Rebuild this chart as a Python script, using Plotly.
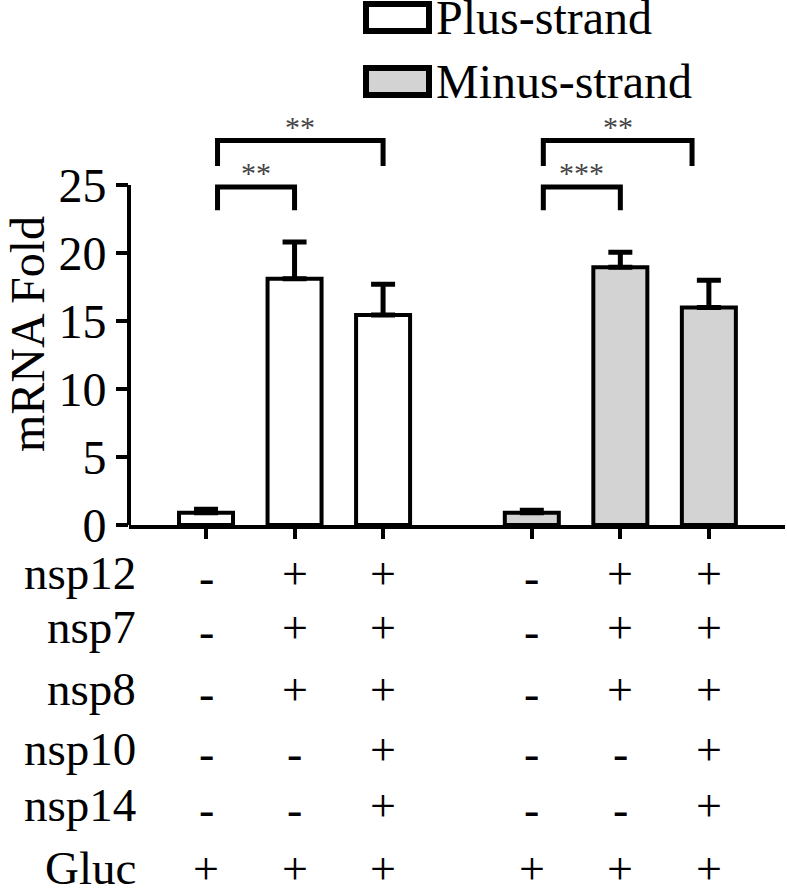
import plotly.graph_objects as go

# data
plus_vals = [0.9, 18.1, 15.45]
plus_err = [0.25, 2.7, 2.25]
minus_vals = [0.9, 18.95, 16.0]
minus_err = [0.18, 1.1, 2.0]

row_names = ["nsp12", "nsp7", "nsp8", "nsp10", "nsp14", "Gluc"]
row_signs = [
    ["-", "+", "+", "-", "+", "+"],
    ["-", "+", "+", "-", "+", "+"],
    ["-", "+", "+", "-", "+", "+"],
    ["-", "-", "+", "-", "-", "+"],
    ["-", "-", "+", "-", "-", "+"],
    ["+", "+", "+", "+", "+", "+"],
]

# comparisons: (bar from, bar to, level, label)
comparisons = [(0, 2, 1, "**"), (0, 1, 0, "**"), (3, 5, 1, "**"), (3, 4, 0, "***")]

FONT = "Liberation Serif"
W, H = 787, 891
L, R, T, B = 129, 2, 100, 366
PW, PH = W - L - R, H - T - B
group_gap = 1.68
bar_w = 0.61
ymax = 31.25


def px_x(x):
    return (x - L) / PW


def px_y(y):
    return (H - B - y) / PH


pos = [i for i in range(3)] + [i + group_gap + 2 for i in range(3)]

fig = go.Figure()
for vals, errs, xs, color in [(plus_vals, plus_err, pos[:3], "white"),
                              (minus_vals, minus_err, pos[3:], "#d3d3d3")]:
    fig.add_trace(go.Bar(
        x=xs, y=vals, width=bar_w,
        marker=dict(color=color, line=dict(color="black", width=4)),
        error_y=dict(type="data", array=errs, arrayminus=[0] * len(errs),
                     symmetric=False, color="black", thickness=5, width=12),
    ))

shapes = []
# y axis line only up to 25
shapes.append(dict(type="line", xref="paper", yref="y", x0=0, x1=0, y0=0, y1=25,
                   line=dict(color="black", width=4)))

# significance brackets
levels = [(24.85, 23.15), (28.27, 26.4)]
annos = []
for a, b, lev, lab in comparisons:
    x0 = pos[a] + 0.13
    x1 = pos[b] - (0.19 if (b - a) == 2 and a == 3 else 0.0)
    yh, yl = levels[lev]
    shapes.append(dict(type="path", xref="x", yref="y",
                       path=f"M {x0},{yl} L {x0},{yh} L {x1},{yh} L {x1},{yl}",
                       line=dict(color="black", width=5)))
    annos.append(dict(x=(x0 + x1) / 2, y=yh, xref="x", yref="y", text=lab,
                      showarrow=False, yanchor="bottom", yshift=-4,
                      font=dict(family=FONT, size=30, color="#444444")))

# y axis title
annos.append(dict(x=px_x(27), y=px_y(334), xref="paper", yref="paper", text="mRNA Fold",
                  textangle=-90, showarrow=False, xanchor="center", yanchor="middle",
                  font=dict(family=FONT, size=48, color="black")))

# table below the axis
row_px = [573, 627, 689, 749, 805, 868]
for name, signs, ypx in zip(row_names, row_signs, row_px):
    yp = px_y(ypx)
    annos.append(dict(x=px_x(138), y=yp, xref="paper", yref="paper",
                      text=name, showarrow=False, xanchor="right", yanchor="middle",
                      font=dict(family=FONT, size=47, color="black")))
    for xv, s in zip(pos, signs):
        annos.append(dict(x=xv, y=yp, xref="x", yref="paper", text=s, showarrow=False,
                          xanchor="center", yanchor="middle", yshift=-4 if s == "-" else 0,
                          font=dict(family=FONT, size=46, color="black")))

# legend drawn by hand
legend_items = [("Plus-strand", "white"), ("Minus-strand", "#d3d3d3")]
for k, (lab, color) in enumerate(legend_items):
    top = 4 + k * 64
    y0, y1 = px_y(top), px_y(top + 27)
    shapes.append(dict(type="rect", xref="paper", yref="paper",
                       x0=px_x(366), x1=px_x(429), y0=y1, y1=y0,
                       fillcolor=color, line=dict(color="black", width=6)))
    annos.append(dict(x=px_x(434), y=(y0 + y1) / 2, xref="paper", yref="paper",
                      text=lab, showarrow=False, xanchor="left", yanchor="middle",
                      font=dict(family=FONT, size=48, color="black")))

fig.update_layout(
    width=W, height=H,
    margin=dict(l=L, r=R, t=T, b=B, pad=0),
    plot_bgcolor="white", paper_bgcolor="white",
    showlegend=False,
    shapes=shapes, annotations=annos,
)
fig.update_xaxes(range=[-0.87, 6.54], showline=True, linewidth=4, linecolor="black",
                 ticks="outside", ticklen=10, tickwidth=4, tickcolor="black",
                 tickvals=pos, showticklabels=False, showgrid=False, zeroline=False)
fig.update_yaxes(range=[0, ymax], showline=False, ticks="outside", ticklen=12, tickwidth=4,
                 tickcolor="black", tickvals=[0, 5, 10, 15, 20, 25], showgrid=False,
                 zeroline=False, tickfont=dict(family=FONT, size=48, color="black"))

# drop the default page margin so the figure sits at the window corner
fig.write_html("out.html", config=dict(displayModeBar=False),
               post_script="document.body.style.margin='0';")
